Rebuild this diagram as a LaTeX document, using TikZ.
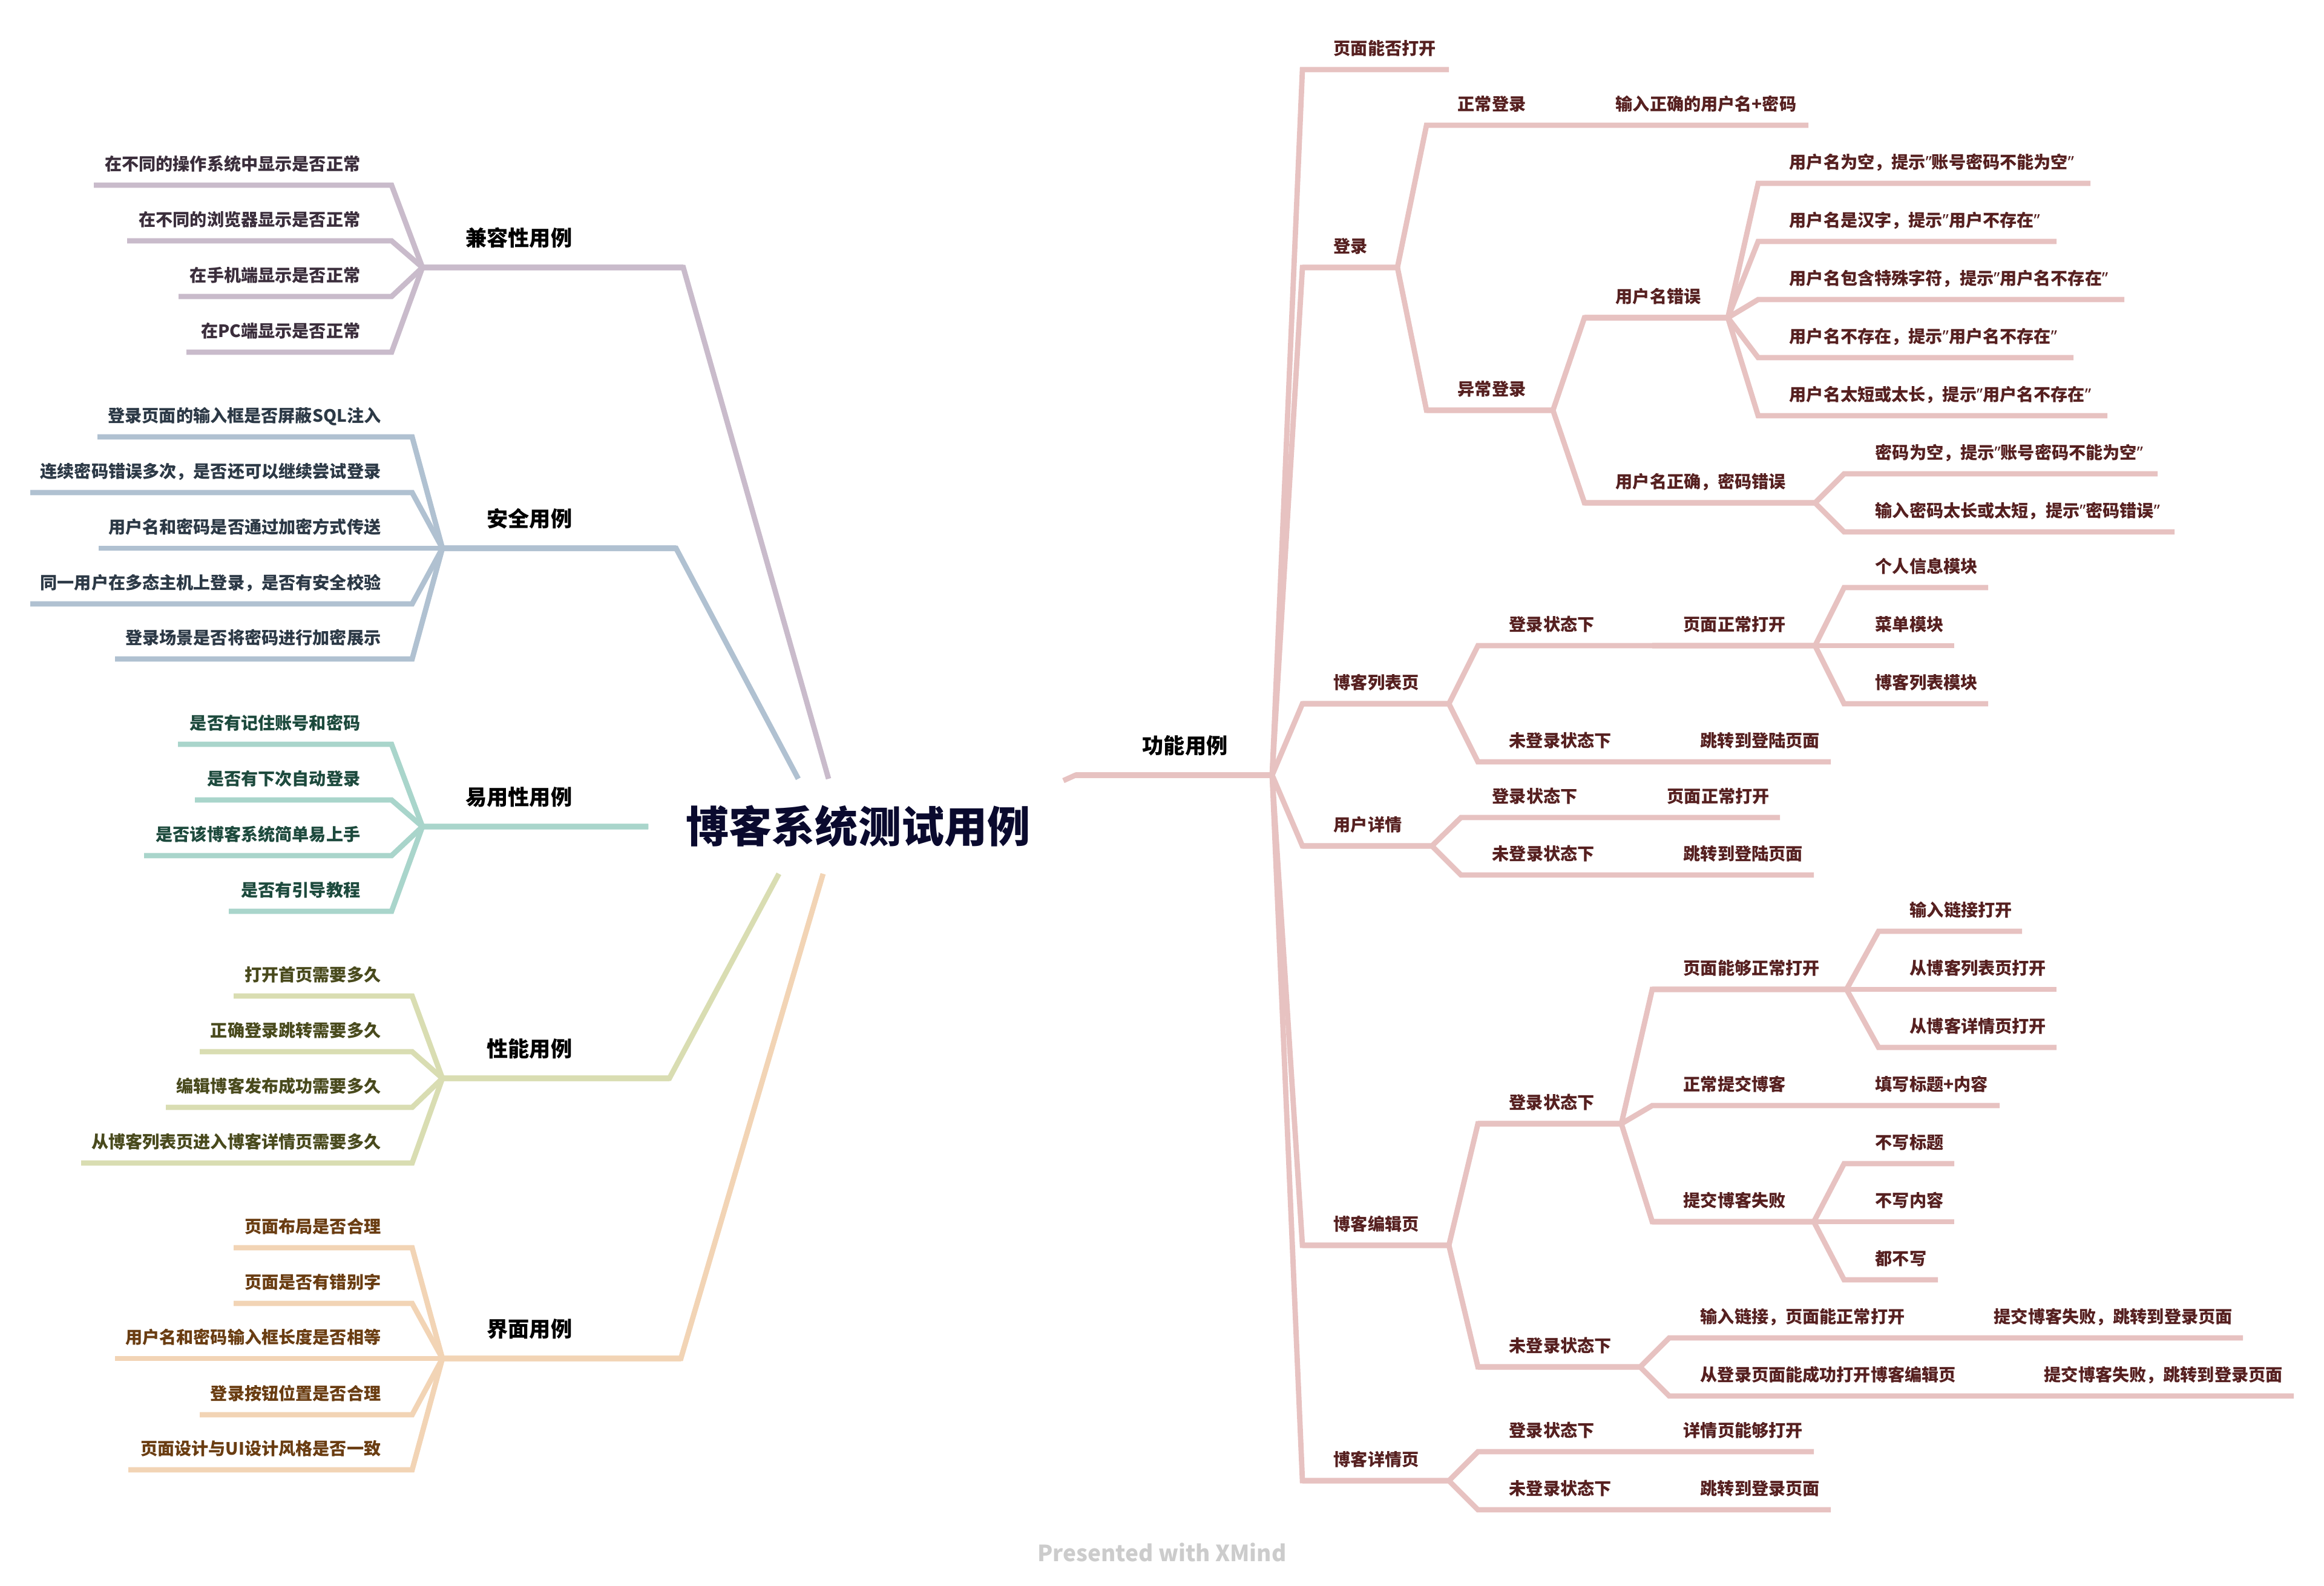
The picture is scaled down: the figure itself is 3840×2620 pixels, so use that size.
\documentclass[tikz,border=0pt]{standalone}
\usepackage{fontspec}
\setmainfont{Noto Sans CJK SC}
\newfontfamily\quotefont{Noto Sans}
\usepackage{tikz}

\definecolor{roottext}{HTML}{0A0A2E}
\definecolor{fnline}{HTML}{E7C2C1}
\definecolor{fntext}{HTML}{562020}
\definecolor{cpline}{HTML}{C9BBCB}
\definecolor{cptext}{HTML}{3B2E3C}
\definecolor{scline}{HTML}{B0C1D1}
\definecolor{sctext}{HTML}{2C3946}
\definecolor{usline}{HTML}{A9D5CB}
\definecolor{ustext}{HTML}{1D4A3D}
\definecolor{pfline}{HTML}{D9DDB2}
\definecolor{pftext}{HTML}{494A1D}
\definecolor{uiline}{HTML}{F2D4B5}
\definecolor{uitext}{HTML}{6A3D12}

\begin{document}
\begin{tikzpicture}
 [x=0.01cm, y=-0.01cm,
  root node/.style={inner sep=0, anchor=base, text=roottext, font=\fontsize{20.2}{24}\selectfont\bfseries},
  main node/.style={inner sep=0, text=black, font=\fontsize{10}{12}\selectfont\bfseries},
  leaf/.style={inner sep=0, font=\fontsize{8}{10}\selectfont\bfseries},
  fn leaf/.style={leaf, anchor=base west, text=fntext},
  cp leaf/.style={leaf, anchor=base east, text=cptext},
  sc leaf/.style={leaf, anchor=base east, text=sctext},
  us leaf/.style={leaf, anchor=base east, text=ustext},
  pf leaf/.style={leaf, anchor=base east, text=pftext},
  ui leaf/.style={leaf, anchor=base east, text=uitext},
  fn edge/.style={draw=fnline, line width=2.5pt},
  cp edge/.style={draw=cpline, line width=2.5pt},
  sc edge/.style={draw=scline, line width=2.5pt},
  us edge/.style={draw=usline, line width=2.5pt},
  pf edge/.style={draw=pfline, line width=2.5pt},
  ui edge/.style={draw=uiline, line width=2.5pt},
  footer/.style={inner sep=0, text=black!20, font=\fontsize{10.5}{13}\selectfont\bfseries}]

\useasboundingbox (0,0) rectangle (3840,2620);

\node[root node] (root) at (1418,1392) {博客系统测试用例};

% functional cases
\coordinate (fn-r) at (1757,1290);
\coordinate (fn-s) at (1777,1281);
\coordinate (fn-e) at (2102,1281);
\node[main node, anchor=base west] (fn) at (1887,1245) {功能用例};

\coordinate (p1-s) at (2152,115);  \coordinate (p1-e) at (2394,115);
\node[fn leaf] (p1) at ([shift={(51,-25)}]p1-s) {页面能否打开};
\coordinate (lg-s) at (2152,442);  \coordinate (lg-e) at (2309,442);
\node[fn leaf] (lg) at ([shift={(51,-25)}]lg-s) {登录};
\coordinate (bl-s) at (2152,1163); \coordinate (bl-e) at (2394,1163);
\node[fn leaf] (bl) at ([shift={(51,-25)}]bl-s) {博客列表页};
\coordinate (ud-s) at (2152,1398); \coordinate (ud-e) at (2366,1398);
\node[fn leaf] (ud) at ([shift={(51,-25)}]ud-s) {用户详情};
\coordinate (be-s) at (2152,2058); \coordinate (be-e) at (2394,2058);
\node[fn leaf] (be) at ([shift={(51,-25)}]be-s) {博客编辑页};
\coordinate (bd-s) at (2152,2447); \coordinate (bd-e) at (2394,2447);
\node[fn leaf] (bd) at ([shift={(51,-25)}]bd-s) {博客详情页};

\coordinate (nl-s) at (2357,207);  \coordinate (nl-e) at (2568,207);
\node[fn leaf] (nl) at ([shift={(51,-25)}]nl-s) {正常登录};
\coordinate (nl1-s) at (2618,207); \coordinate (nl1-e) at (2988,207);
\node[fn leaf] (nl1) at ([shift={(51,-25)}]nl1-s) {输入正确的用户名+密码};
\coordinate (al-s) at (2357,678);  \coordinate (al-e) at (2566,678);
\node[fn leaf] (al) at ([shift={(51,-25)}]al-s) {异常登录};
\coordinate (ue-s) at (2618,525);  \coordinate (ue-e) at (2855,525);
\node[fn leaf] (ue) at ([shift={(51,-25)}]ue-s) {用户名错误};
\coordinate (ue1-s) at (2905,303); \coordinate (ue1-e) at (3454,303);
\node[fn leaf] (ue1) at ([shift={(51,-25)}]ue1-s) {用户名为空，提示{\quotefont ”}账号密码不能为空{\quotefont ”}};
\coordinate (ue2-s) at (2905,399); \coordinate (ue2-e) at (3398,399);
\node[fn leaf] (ue2) at ([shift={(51,-25)}]ue2-s) {用户名是汉字，提示{\quotefont ”}用户不存在{\quotefont ”}};
\coordinate (ue3-s) at (2905,495); \coordinate (ue3-e) at (3510,495);
\node[fn leaf] (ue3) at ([shift={(51,-25)}]ue3-s) {用户名包含特殊字符，提示{\quotefont ”}用户名不存在{\quotefont ”}};
\coordinate (ue4-s) at (2905,591); \coordinate (ue4-e) at (3426,591);
\node[fn leaf] (ue4) at ([shift={(51,-25)}]ue4-s) {用户名不存在，提示{\quotefont ”}用户名不存在{\quotefont ”}};
\coordinate (ue5-s) at (2905,687); \coordinate (ue5-e) at (3482,687);
\node[fn leaf] (ue5) at ([shift={(51,-25)}]ue5-s) {用户名太短或太长，提示{\quotefont ”}用户名不存在{\quotefont ”}};
\coordinate (pe-s) at (2618,831);  \coordinate (pe-e) at (2999,831);
\node[fn leaf] (pe) at ([shift={(51,-25)}]pe-s) {用户名正确，密码错误};
\coordinate (pe1-s) at (3047,783); \coordinate (pe1-e) at (3565,783);
\node[fn leaf] (pe1) at ([shift={(51,-25)}]pe1-s) {密码为空，提示{\quotefont ”}账号密码不能为空{\quotefont ”}};
\coordinate (pe2-s) at (3047,879); \coordinate (pe2-e) at (3593,879);
\node[fn leaf] (pe2) at ([shift={(51,-25)}]pe2-s) {输入密码太长或太短，提示{\quotefont ”}密码错误{\quotefont ”}};

\coordinate (bl1-s) at (2442,1067);   \coordinate (bl1-e) at (2682,1067);
\node[fn leaf] (bl1) at ([shift={(51,-25)}]bl1-s) {登录状态下};
\coordinate (bl11-s) at (2730,1067);  \coordinate (bl11-e) at (2999,1067);
\node[fn leaf] (bl11) at ([shift={(51,-25)}]bl11-s) {页面正常打开};
\coordinate (bl111-s) at (3047,971);  \coordinate (bl111-e) at (3285,971);
\node[fn leaf] (bl111) at ([shift={(51,-25)}]bl111-s) {个人信息模块};
\coordinate (bl112-s) at (3047,1067); \coordinate (bl112-e) at (3229,1067);
\node[fn leaf] (bl112) at ([shift={(51,-25)}]bl112-s) {菜单模块};
\coordinate (bl113-s) at (3047,1163); \coordinate (bl113-e) at (3285,1163);
\node[fn leaf] (bl113) at ([shift={(51,-25)}]bl113-s) {博客列表模块};
\coordinate (bl2-s) at (2442,1259);   \coordinate (bl2-e) at (2710,1259);
\node[fn leaf] (bl2) at ([shift={(51,-25)}]bl2-s) {未登录状态下};
\coordinate (bl21-s) at (2758,1259);  \coordinate (bl21-e) at (3025,1259);
\node[fn leaf] (bl21) at ([shift={(51,-25)}]bl21-s) {跳转到登陆页面};

\coordinate (ud1-s) at (2414,1351);  \coordinate (ud1-e) at (2654,1351);
\node[fn leaf] (ud1) at ([shift={(51,-25)}]ud1-s) {登录状态下};
\coordinate (ud11-s) at (2703,1351); \coordinate (ud11-e) at (2941,1351);
\node[fn leaf] (ud11) at ([shift={(51,-25)}]ud11-s) {页面正常打开};
\coordinate (ud2-s) at (2414,1446);  \coordinate (ud2-e) at (2682,1446);
\node[fn leaf] (ud2) at ([shift={(51,-25)}]ud2-s) {未登录状态下};
\coordinate (ud21-s) at (2730,1446); \coordinate (ud21-e) at (2997,1446);
\node[fn leaf] (ud21) at ([shift={(51,-25)}]ud21-s) {跳转到登陆页面};

\coordinate (be1-s) at (2442,1857);   \coordinate (be1-e) at (2679,1857);
\node[fn leaf] (be1) at ([shift={(51,-25)}]be1-s) {登录状态下};
\coordinate (be11-s) at (2730,1635);  \coordinate (be11-e) at (3051,1635);
\node[fn leaf] (be11) at ([shift={(51,-25)}]be11-s) {页面能够正常打开};
\coordinate (be111-s) at (3104,1539); \coordinate (be111-e) at (3341,1539);
\node[fn leaf] (be111) at ([shift={(51,-25)}]be111-s) {输入链接打开};
\coordinate (be112-s) at (3104,1635); \coordinate (be112-e) at (3398,1635);
\node[fn leaf] (be112) at ([shift={(51,-25)}]be112-s) {从博客列表页打开};
\coordinate (be113-s) at (3104,1731); \coordinate (be113-e) at (3398,1731);
\node[fn leaf] (be113) at ([shift={(51,-25)}]be113-s) {从博客详情页打开};
\coordinate (be12-s) at (2730,1827);  \coordinate (be12-e) at (2996,1827);
\node[fn leaf] (be12) at ([shift={(51,-25)}]be12-s) {正常提交博客};
\coordinate (be121-s) at (3047,1827); \coordinate (be121-e) at (3304,1827);
\node[fn leaf] (be121) at ([shift={(51,-25)}]be121-s) {填写标题+内容};
\coordinate (be13-s) at (2730,2019);  \coordinate (be13-e) at (2997,2019);
\node[fn leaf] (be13) at ([shift={(51,-25)}]be13-s) {提交博客失败};
\coordinate (be131-s) at (3047,1923); \coordinate (be131-e) at (3229,1923);
\node[fn leaf] (be131) at ([shift={(51,-25)}]be131-s) {不写标题};
\coordinate (be132-s) at (3047,2019); \coordinate (be132-e) at (3229,2019);
\node[fn leaf] (be132) at ([shift={(51,-25)}]be132-s) {不写内容};
\coordinate (be133-s) at (3047,2115); \coordinate (be133-e) at (3202,2115);
\node[fn leaf] (be133) at ([shift={(51,-25)}]be133-s) {都不写};
\coordinate (be2-s) at (2442,2259);   \coordinate (be2-e) at (2710,2259);
\node[fn leaf] (be2) at ([shift={(51,-25)}]be2-s) {未登录状态下};
\coordinate (be21-s) at (2758,2211);  \coordinate (be21-e) at (3192,2211);
\node[fn leaf] (be21) at ([shift={(51,-25)}]be21-s) {输入链接，页面能正常打开};
\coordinate (be211-s) at (3243,2211); \coordinate (be211-e) at (3706,2211);
\node[fn leaf] (be211) at ([shift={(51,-25)}]be211-s) {提交博客失败，跳转到登录页面};
\coordinate (be22-s) at (2758,2307);  \coordinate (be22-e) at (3276,2307);
\node[fn leaf] (be22) at ([shift={(51,-25)}]be22-s) {从登录页面能成功打开博客编辑页};
\coordinate (be221-s) at (3326,2307); \coordinate (be221-e) at (3790,2307);
\node[fn leaf] (be221) at ([shift={(51,-25)}]be221-s) {提交博客失败，跳转到登录页面};

\coordinate (bd1-s) at (2442,2399);  \coordinate (bd1-e) at (2682,2399);
\node[fn leaf] (bd1) at ([shift={(51,-25)}]bd1-s) {登录状态下};
\coordinate (bd11-s) at (2730,2399); \coordinate (bd11-e) at (2997,2399);
\node[fn leaf] (bd11) at ([shift={(51,-25)}]bd11-s) {详情页能够打开};
\coordinate (bd2-s) at (2442,2495);  \coordinate (bd2-e) at (2710,2495);
\node[fn leaf] (bd2) at ([shift={(51,-25)}]bd2-s) {未登录状态下};
\coordinate (bd21-s) at (2758,2495); \coordinate (bd21-e) at (3025,2495);
\node[fn leaf] (bd21) at ([shift={(51,-25)}]bd21-s) {跳转到登录页面};

\draw[fn edge] (fn-r) -- (fn-s) -- (fn-e);
\draw[fn edge] (fn-s) -- (fn-e) -- (p1-s) -- (p1-e);
\draw[fn edge] (fn-s) -- (fn-e) -- (lg-s) -- (lg-e);
\draw[fn edge] (fn-s) -- (fn-e) -- (bl-s) -- (bl-e);
\draw[fn edge] (fn-s) -- (fn-e) -- (ud-s) -- (ud-e);
\draw[fn edge] (fn-s) -- (fn-e) -- (be-s) -- (be-e);
\draw[fn edge] (fn-s) -- (fn-e) -- (bd-s) -- (bd-e);
\draw[fn edge] (lg-s) -- (lg-e) -- (nl-s) -- (nl-e) -- (nl1-s) -- (nl1-e);
\draw[fn edge] (lg-s) -- (lg-e) -- (al-s) -- (al-e);
\draw[fn edge] (al-s) -- (al-e) -- (ue-s) -- (ue-e);
\draw[fn edge] (al-s) -- (al-e) -- (pe-s) -- (pe-e);
\draw[fn edge] (ue-s) -- (ue-e) -- (ue1-s) -- (ue1-e);
\draw[fn edge] (ue-s) -- (ue-e) -- (ue2-s) -- (ue2-e);
\draw[fn edge] (ue-s) -- (ue-e) -- (ue3-s) -- (ue3-e);
\draw[fn edge] (ue-s) -- (ue-e) -- (ue4-s) -- (ue4-e);
\draw[fn edge] (ue-s) -- (ue-e) -- (ue5-s) -- (ue5-e);
\draw[fn edge] (pe-s) -- (pe-e) -- (pe1-s) -- (pe1-e);
\draw[fn edge] (pe-s) -- (pe-e) -- (pe2-s) -- (pe2-e);
\draw[fn edge] (bl-s) -- (bl-e) -- (bl1-s) -- (bl1-e) -- (bl11-s) -- (bl11-e);
\draw[fn edge] (bl11-s) -- (bl11-e) -- (bl111-s) -- (bl111-e);
\draw[fn edge] (bl11-s) -- (bl11-e) -- (bl112-s) -- (bl112-e);
\draw[fn edge] (bl11-s) -- (bl11-e) -- (bl113-s) -- (bl113-e);
\draw[fn edge] (bl-s) -- (bl-e) -- (bl2-s) -- (bl2-e) -- (bl21-s) -- (bl21-e);
\draw[fn edge] (ud-s) -- (ud-e) -- (ud1-s) -- (ud1-e) -- (ud11-s) -- (ud11-e);
\draw[fn edge] (ud-s) -- (ud-e) -- (ud2-s) -- (ud2-e) -- (ud21-s) -- (ud21-e);
\draw[fn edge] (be-s) -- (be-e) -- (be1-s) -- (be1-e);
\draw[fn edge] (be1-s) -- (be1-e) -- (be11-s) -- (be11-e);
\draw[fn edge] (be11-s) -- (be11-e) -- (be111-s) -- (be111-e);
\draw[fn edge] (be11-s) -- (be11-e) -- (be112-s) -- (be112-e);
\draw[fn edge] (be11-s) -- (be11-e) -- (be113-s) -- (be113-e);
\draw[fn edge] (be1-s) -- (be1-e) -- (be12-s) -- (be12-e) -- (be121-s) -- (be121-e);
\draw[fn edge] (be1-s) -- (be1-e) -- (be13-s) -- (be13-e);
\draw[fn edge] (be13-s) -- (be13-e) -- (be131-s) -- (be131-e);
\draw[fn edge] (be13-s) -- (be13-e) -- (be132-s) -- (be132-e);
\draw[fn edge] (be13-s) -- (be13-e) -- (be133-s) -- (be133-e);
\draw[fn edge] (be-s) -- (be-e) -- (be2-s) -- (be2-e);
\draw[fn edge] (be2-s) -- (be2-e) -- (be21-s) -- (be21-e) -- (be211-s) -- (be211-e);
\draw[fn edge] (be2-s) -- (be2-e) -- (be22-s) -- (be22-e) -- (be221-s) -- (be221-e);
\draw[fn edge] (bd-s) -- (bd-e) -- (bd1-s) -- (bd1-e) -- (bd11-s) -- (bd11-e);
\draw[fn edge] (bd-s) -- (bd-e) -- (bd2-s) -- (bd2-e) -- (bd21-s) -- (bd21-e);

% compatibility cases
\coordinate (cp-r) at (1369,1287);
\coordinate (cp-s) at (1129,442);
\coordinate (cp-e) at (698,442);
\node[main node, anchor=base east] (cp) at (946,406) {兼容性用例};
\coordinate (cp1-s) at (647,306); \coordinate (cp1-e) at (155,306);
\node[cp leaf] (cp1) at ([shift={(-51,-25)}]cp1-s) {在不同的操作系统中显示是否正常};
\coordinate (cp2-s) at (647,398); \coordinate (cp2-e) at (210,398);
\node[cp leaf] (cp2) at ([shift={(-51,-25)}]cp2-s) {在不同的浏览器显示是否正常};
\coordinate (cp3-s) at (647,490); \coordinate (cp3-e) at (295,490);
\node[cp leaf] (cp3) at ([shift={(-51,-25)}]cp3-s) {在手机端显示是否正常};
\coordinate (cp4-s) at (647,582); \coordinate (cp4-e) at (308,582);
\node[cp leaf] (cp4) at ([shift={(-51,-25)}]cp4-s) {在PC端显示是否正常};
\draw[cp edge] (cp-r) -- (cp-s) -- (cp-e);
\draw[cp edge] (cp-s) -- (cp-e) -- (cp1-s) -- (cp1-e);
\draw[cp edge] (cp-s) -- (cp-e) -- (cp2-s) -- (cp2-e);
\draw[cp edge] (cp-s) -- (cp-e) -- (cp3-s) -- (cp3-e);
\draw[cp edge] (cp-s) -- (cp-e) -- (cp4-s) -- (cp4-e);

% security cases
\coordinate (sc-r) at (1319,1287);
\coordinate (sc-s) at (1117,906);
\coordinate (sc-e) at (731,906);
\node[main node, anchor=base east] (sc) at (946,870) {安全用例};
\coordinate (sc1-s) at (681,722);  \coordinate (sc1-e) at (161,722);
\node[sc leaf] (sc1) at ([shift={(-51,-25)}]sc1-s) {登录页面的输入框是否屏蔽SQL注入};
\coordinate (sc2-s) at (681,814);  \coordinate (sc2-e) at (50,814);
\node[sc leaf] (sc2) at ([shift={(-51,-25)}]sc2-s) {连续密码错误多次，是否还可以继续尝试登录};
\coordinate (sc3-s) at (681,906);  \coordinate (sc3-e) at (163,906);
\node[sc leaf] (sc3) at ([shift={(-51,-25)}]sc3-s) {用户名和密码是否通过加密方式传送};
\coordinate (sc4-s) at (681,998);  \coordinate (sc4-e) at (50,998);
\node[sc leaf] (sc4) at ([shift={(-51,-25)}]sc4-s) {同一用户在多态主机上登录，是否有安全校验};
\coordinate (sc5-s) at (681,1089); \coordinate (sc5-e) at (190,1089);
\node[sc leaf] (sc5) at ([shift={(-51,-25)}]sc5-s) {登录场景是否将密码进行加密展示};
\draw[sc edge] (sc-r) -- (sc-s) -- (sc-e);
\draw[sc edge] (sc-s) -- (sc-e) -- (sc1-s) -- (sc1-e);
\draw[sc edge] (sc-s) -- (sc-e) -- (sc2-s) -- (sc2-e);
\draw[sc edge] (sc-s) -- (sc-e) -- (sc3-s) -- (sc3-e);
\draw[sc edge] (sc-s) -- (sc-e) -- (sc4-s) -- (sc4-e);
\draw[sc edge] (sc-s) -- (sc-e) -- (sc5-s) -- (sc5-e);

% usability cases
\coordinate (us-s) at (1071,1366);
\coordinate (us-e) at (698,1366);
\node[main node, anchor=base east] (us) at (946,1330) {易用性用例};
\coordinate (us1-s) at (647,1230); \coordinate (us1-e) at (294,1230);
\node[us leaf] (us1) at ([shift={(-51,-25)}]us1-s) {是否有记住账号和密码};
\coordinate (us2-s) at (647,1322); \coordinate (us2-e) at (322,1322);
\node[us leaf] (us2) at ([shift={(-51,-25)}]us2-s) {是否有下次自动登录};
\coordinate (us3-s) at (647,1414); \coordinate (us3-e) at (238,1414);
\node[us leaf] (us3) at ([shift={(-51,-25)}]us3-s) {是否该博客系统简单易上手};
\coordinate (us4-s) at (647,1506); \coordinate (us4-e) at (378,1506);
\node[us leaf] (us4) at ([shift={(-51,-25)}]us4-s) {是否有引导教程};
\draw[us edge] (us-s) -- (us-e);
\draw[us edge] (us-s) -- (us-e) -- (us1-s) -- (us1-e);
\draw[us edge] (us-s) -- (us-e) -- (us2-s) -- (us2-e);
\draw[us edge] (us-s) -- (us-e) -- (us3-s) -- (us3-e);
\draw[us edge] (us-s) -- (us-e) -- (us4-s) -- (us4-e);

% performance cases
\coordinate (pf-r) at (1287,1444);
\coordinate (pf-s) at (1106,1782);
\coordinate (pf-e) at (731,1782);
\node[main node, anchor=base east] (pf) at (946,1746) {性能用例};
\coordinate (pf1-s) at (681,1646); \coordinate (pf1-e) at (386,1646);
\node[pf leaf] (pf1) at ([shift={(-51,-25)}]pf1-s) {打开首页需要多久};
\coordinate (pf2-s) at (681,1738); \coordinate (pf2-e) at (330,1738);
\node[pf leaf] (pf2) at ([shift={(-51,-25)}]pf2-s) {正确登录跳转需要多久};
\coordinate (pf3-s) at (681,1830); \coordinate (pf3-e) at (274,1830);
\node[pf leaf] (pf3) at ([shift={(-51,-25)}]pf3-s) {编辑博客发布成功需要多久};
\coordinate (pf4-s) at (681,1922); \coordinate (pf4-e) at (134,1922);
\node[pf leaf] (pf4) at ([shift={(-51,-25)}]pf4-s) {从博客列表页进入博客详情页需要多久};
\draw[pf edge] (pf-r) -- (pf-s) -- (pf-e);
\draw[pf edge] (pf-s) -- (pf-e) -- (pf1-s) -- (pf1-e);
\draw[pf edge] (pf-s) -- (pf-e) -- (pf2-s) -- (pf2-e);
\draw[pf edge] (pf-s) -- (pf-e) -- (pf3-s) -- (pf3-e);
\draw[pf edge] (pf-s) -- (pf-e) -- (pf4-s) -- (pf4-e);

% interface cases
\coordinate (ui-r) at (1360,1444);
\coordinate (ui-s) at (1125,2245);
\coordinate (ui-e) at (731,2245);
\node[main node, anchor=base east] (ui) at (946,2209) {界面用例};
\coordinate (ui1-s) at (681,2062); \coordinate (ui1-e) at (386,2062);
\node[ui leaf] (ui1) at ([shift={(-51,-25)}]ui1-s) {页面布局是否合理};
\coordinate (ui2-s) at (681,2154); \coordinate (ui2-e) at (386,2154);
\node[ui leaf] (ui2) at ([shift={(-51,-25)}]ui2-s) {页面是否有错别字};
\coordinate (ui3-s) at (681,2245); \coordinate (ui3-e) at (190,2245);
\node[ui leaf] (ui3) at ([shift={(-51,-25)}]ui3-s) {用户名和密码输入框长度是否相等};
\coordinate (ui4-s) at (681,2338); \coordinate (ui4-e) at (330,2338);
\node[ui leaf] (ui4) at ([shift={(-51,-25)}]ui4-s) {登录按钮位置是否合理};
\coordinate (ui5-s) at (681,2429); \coordinate (ui5-e) at (212,2429);
\node[ui leaf] (ui5) at ([shift={(-51,-25)}]ui5-s) {页面设计与UI设计风格是否一致};
\draw[ui edge] (ui-r) -- (ui-s) -- (ui-e);
\draw[ui edge] (ui-s) -- (ui-e) -- (ui1-s) -- (ui1-e);
\draw[ui edge] (ui-s) -- (ui-e) -- (ui2-s) -- (ui2-e);
\draw[ui edge] (ui-s) -- (ui-e) -- (ui3-s) -- (ui3-e);
\draw[ui edge] (ui-s) -- (ui-e) -- (ui4-s) -- (ui4-e);
\draw[ui edge] (ui-s) -- (ui-e) -- (ui5-s) -- (ui5-e);

\node[footer] (xmind) at (1920,2565) {Presented with XMind};

\end{tikzpicture}
\end{document}
